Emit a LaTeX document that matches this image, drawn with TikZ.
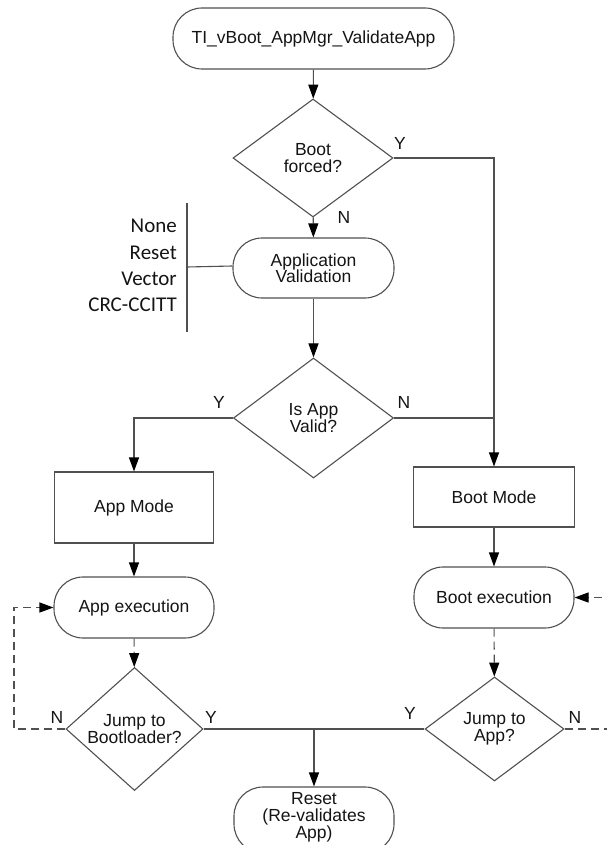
\documentclass[tikz,border=0pt]{standalone}
\usepackage{fontspec}
\setmainfont{Liberation Sans}
\newfontfamily\calfont{Carlito}
\usetikzlibrary{shapes.geometric,arrows.meta}
\definecolor{ln}{RGB}{80,80,80}
\definecolor{tx}{RGB}{20,20,20}
\tikzset{
  base/.style={draw=ln, line width=1.1pt, text=tx, align=center, inner sep=0pt,
    font=\fontsize{17.5}{16.5}\selectfont},
  term/.style={base, rectangle, rounded corners=29pt},
  proc/.style={base, rectangle},
  dec/.style={base, diamond},
  conn/.style={draw=ln, line width=1.1pt},
  arr/.style={conn, -{Triangle[length=14pt,width=10pt,color=black]}},
  dsh/.style={dash pattern=on 8pt off 5pt},
  lbl/.style={text=tx, font=\fontsize{17.5}{17.5}\selectfont, inner sep=0pt},
  opt/.style={text=tx, font=\calfont\fontsize{21}{21}\selectfont, inner sep=0pt, anchor=east}
}
\begin{document}
\begin{tikzpicture}[x=1pt,y=-1pt]
\useasboundingbox (0,0) rectangle (607,845);
\begin{scope}
\clip (0,0) rectangle (607,845);
% nodes
\node[term, minimum width=281pt, minimum height=61pt] (start) at (313.5,38.5) {TI\_vBoot\_AppMgr\_ValidateApp};
\node[dec, minimum width=160pt, minimum height=118pt] (bf) at (313,158) {Boot\\forced?};
\node[term, minimum width=161pt, minimum height=60pt] (av) at (313.5,268) {Application\\Validation};
\node[dec, minimum width=160pt, minimum height=120pt] (iav) at (313.5,418) {Is App\\Valid?};
\node[proc, minimum width=159pt, minimum height=71pt] (am) at (134,507.5) {App Mode};
\node[proc, minimum width=161pt, minimum height=60pt] (bm) at (494,497) {Boot Mode};
\node[term, minimum width=160pt, minimum height=61pt] (ae) at (134,607.5) {App execution};
\node[term, minimum width=160pt, minimum height=61pt] (be) at (494,597.5) {Boot execution};
\node[dec, minimum width=137pt, minimum height=104pt] (jb) at (134.5,729) {Jump to\\Bootloader?};
\node[dec, minimum width=139pt, minimum height=104pt] (ja) at (494.5,729) {Jump to\\App?};
\node[term, minimum width=160pt, minimum height=66pt, text depth=0pt] (rs) at (314,820) {};
\node[lbl, align=center, font=\fontsize{17.5}{17}\selectfont] (rst) at (314,817) {Reset\\(Re-validates\\App)};
% option list
\coordinate (bt) at (187,203);
\coordinate (bb) at (187,332);
\coordinate (bm1) at (187,267);
\draw[conn] (bt) -- (bb);
\node[opt] (o1) at (177,226) {None};
\node[opt] (o2) at (177,253) {Reset};
\node[opt] (o3) at (177,279) {Vector};
\node[opt] (o4) at (177,305) {CRC-CCITT};
\draw[conn] ([yshift=2pt]av.west) -- (bm1);
% connectors
\draw[arr] (start) -- (bf);
\draw[arr] (bf) -- (av);
\draw[arr] (bf.east) -| (bm.north);
\draw[arr] (av) -- (iav);
\draw[arr] (iav.west) -| (am.north);
\draw[conn] (iav.east) -- (iav.east -| bm.north);
\draw[arr] (am) -- (ae);
\draw[arr] (bm) -- (be);
\draw[arr, dsh] (ae) -- (jb);
\draw[arr, dsh] (be) -- (ja);
\coordinate (lft) at (14,729);
\draw[arr, dsh] (jb.west) -- (lft) |- (ae.west);
\coordinate (rt1) at (615,729);
\coordinate (rt2) at (615,597.5);
\draw[conn, dsh] (ja.east) -- (rt1);
\draw[arr, dsh] (rt2) -- (be.east);
\draw[conn] (jb.east) -- (ja.west);
\coordinate (mid) at (314,729);
\draw[arr] (mid) -- (rs.north);
% labels
\node[lbl] (l1) at (400,143) {Y};
\node[lbl] (l2) at (344,217) {N};
\node[lbl] (l3) at (219,402) {Y};
\node[lbl] (l4) at (404,402) {N};
\node[lbl] (l5) at (57,717) {N};
\node[lbl] (l6) at (211,717) {Y};
\node[lbl] (l7) at (410,713) {Y};
\node[lbl] (l8) at (575,717) {N};
\end{scope}
\end{tikzpicture}
\end{document}
